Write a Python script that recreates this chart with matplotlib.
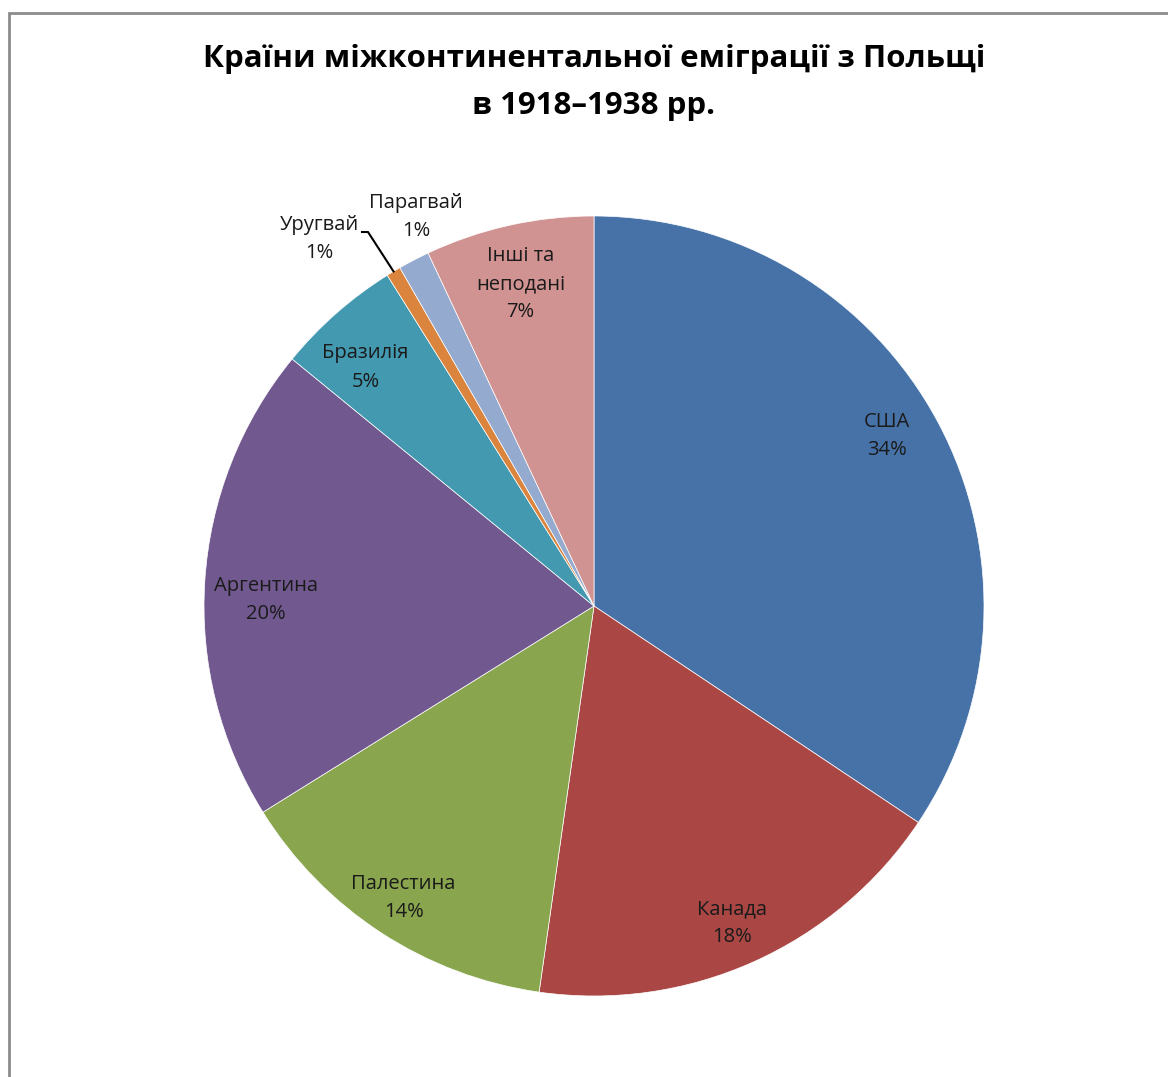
import numpy as np
import matplotlib
matplotlib.use('Agg')
import matplotlib.pyplot as plt
from matplotlib.patches import Rectangle
from matplotlib.lines import Line2D

plt.rcParams['font.family'] = ['Open Sans', 'DejaVu Sans']

# дані
countries = ['США', 'Канада', 'Палестина', 'Аргентина', 'Бразилія',
             'Уругвай', 'Парагвай', 'Інші та\nнеподані']
shares = [34.4, 17.9, 13.9, 19.8, 5.2, 0.6, 1.3, 7.0]
colors = ['#4672A8', '#AA4744', '#89A54E', '#71598F', '#4299B0',
          '#DB843D', '#94AACF', '#D19392']

W, H = 1168, 1077
fig = plt.figure(figsize=(W / 100, H / 100), dpi=100)
fig.patch.set_facecolor('white')

# центр і радіус круга в пікселях
cx, cy, R = 594, 606, 390
ax_w, ax_h = 1000, 900
ax = fig.add_axes([(cx - ax_w / 2) / W, (H - cy - ax_h / 2) / H, ax_w / W, ax_h / H])

wedges, _ = ax.pie(shares, colors=colors, startangle=90, counterclock=False,
                   radius=1.0, wedgeprops=dict(edgecolor='white', linewidth=0.5))
ax.set_xlim(-ax_w / 2 / R, ax_w / 2 / R)
ax.set_ylim(-ax_h / 2 / R, ax_h / 2 / R)
ax.set_aspect('auto')
ax.axis('off')

# підписи: відстань від центру і поправка кута
lab_r = [0.868, 0.887, 0.894, 0.841, 0.847, 1.17, 1.09, 0.847]
lab_da = [2.0, -0.6, 0.0, 2.6, 2.4, 0, 0, 0.3]
total = sum(shares)
for w, name, val, r, da in zip(wedges, countries, shares, lab_r, lab_da):
    mid = np.deg2rad((w.theta1 + w.theta2) / 2 + da)
    x, y = r * np.cos(mid), r * np.sin(mid)
    txt = '%s\n%d%%' % (name, round(val / total * 100))
    if name == 'Уругвай':
        x, y = -275 / R, 367 / R
    elif name == 'Парагвай':
        x, y = -178 / R, 389 / R
    ax.text(x, y, txt, ha='center', va='center', fontsize=14.5,
            color='#1a1a1a', linespacing=1.55)

# лінія-виноска для Уругваю
w = wedges[5]
mid = np.deg2rad((w.theta1 + w.theta2) / 2)
ex, ey = np.cos(mid), np.sin(mid)
ax.add_line(Line2D([-232 / R, -226 / R, ex], [374 / R, 374 / R, ey],
                   color='black', linewidth=1.5))

# заголовок
fig.text(cx / W, 1 - 59 / H, 'Країни міжконтинентальної еміграції з Польщі',
         ha='center', va='center', fontsize=22.5, fontweight='bold')
fig.text(cx / W, 1 - 106 / H, 'в 1918–1938 рр.',
         ha='center', va='center', fontsize=22.5, fontweight='bold')

# рамка
fig.add_artist(Rectangle((9 / W, -0.1), 1.2, 1 - 13 / H + 0.1,
                         transform=fig.transFigure, fill=False,
                         edgecolor='#8c8c8c', linewidth=2))

fig.savefig('out.png', dpi=100, facecolor='white')
